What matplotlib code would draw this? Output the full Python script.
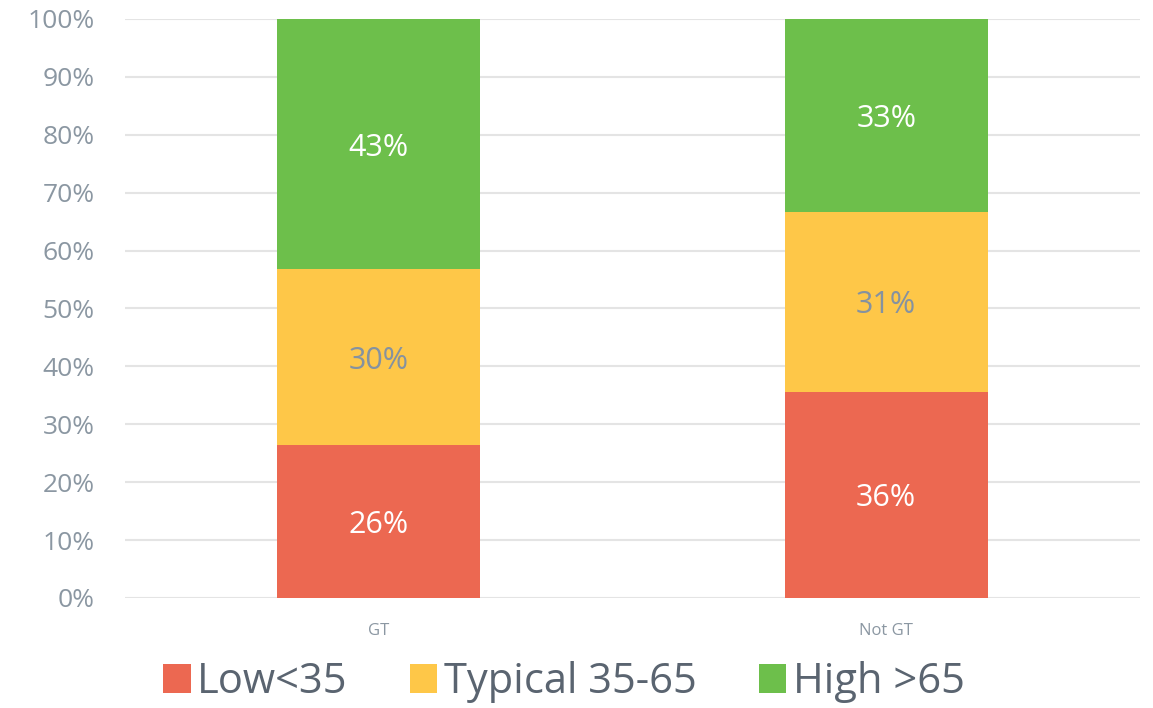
import matplotlib.pyplot as plt
import numpy as np

# Data
categories = ['GT', 'Not GT']
series_names = ['Low<35', 'Typical 35-65', 'High >65']
low = [26.4, 35.6]
typical = [30.4, 31.1]
high = [43.2, 33.3]
yticks = [0, 10, 20, 30, 40, 50, 60, 70, 80, 90, 100]

colors = ['#EC6851', '#FEC748', '#6DBF4B']
label_colors = ['white', '#8592A0', 'white']

plt.rcParams['font.family'] = ['Open Sans', 'DejaVu Sans']

fig = plt.figure(figsize=(11.53, 7.08), dpi=100)
ax = fig.add_axes([0.1084, 0.1554, 0.8803, 0.8178])

x = np.arange(len(categories))
bottom = np.zeros(len(categories))
for vals, name, col, lc in zip([low, typical, high], series_names, colors, label_colors):
    ax.bar(x, vals, width=0.4, bottom=bottom, color=col, label=name, zorder=3)
    for xi, v, bt in zip(x, vals, bottom):
        ax.text(xi, bt + v / 2, f'{round(v):.0f}%', ha='center', va='center_baseline',
                color=lc, fontsize=22, zorder=4)
    bottom += np.array(vals)

ax.set_xlim(-0.5, 1.5)
ax.set_ylim(0, 100)
ax.set_yticks(yticks)
ax.set_yticklabels([f'{t}%' for t in yticks], fontsize=19, color='#8B97A2')
ax.set_xticks(x)
ax.set_xticklabels(categories, fontsize=12, color='#8B97A2')
ax.tick_params(axis='both', length=0)
ax.tick_params(axis='y', pad=22)
ax.tick_params(axis='x', pad=18)
ax.grid(axis='y', color='#E4E4E4', linewidth=1.5, zorder=0)
for s in ax.spines.values():
    s.set_visible(False)

fig.legend(loc='center', bbox_to_anchor=(0.489, 0.037), ncol=3, frameon=False,
           fontsize=30, handlelength=0.66, handleheight=0.7, handletextpad=0.15,
           columnspacing=1.5, labelcolor='#5A6470')

plt.savefig('out.png', dpi=100)
